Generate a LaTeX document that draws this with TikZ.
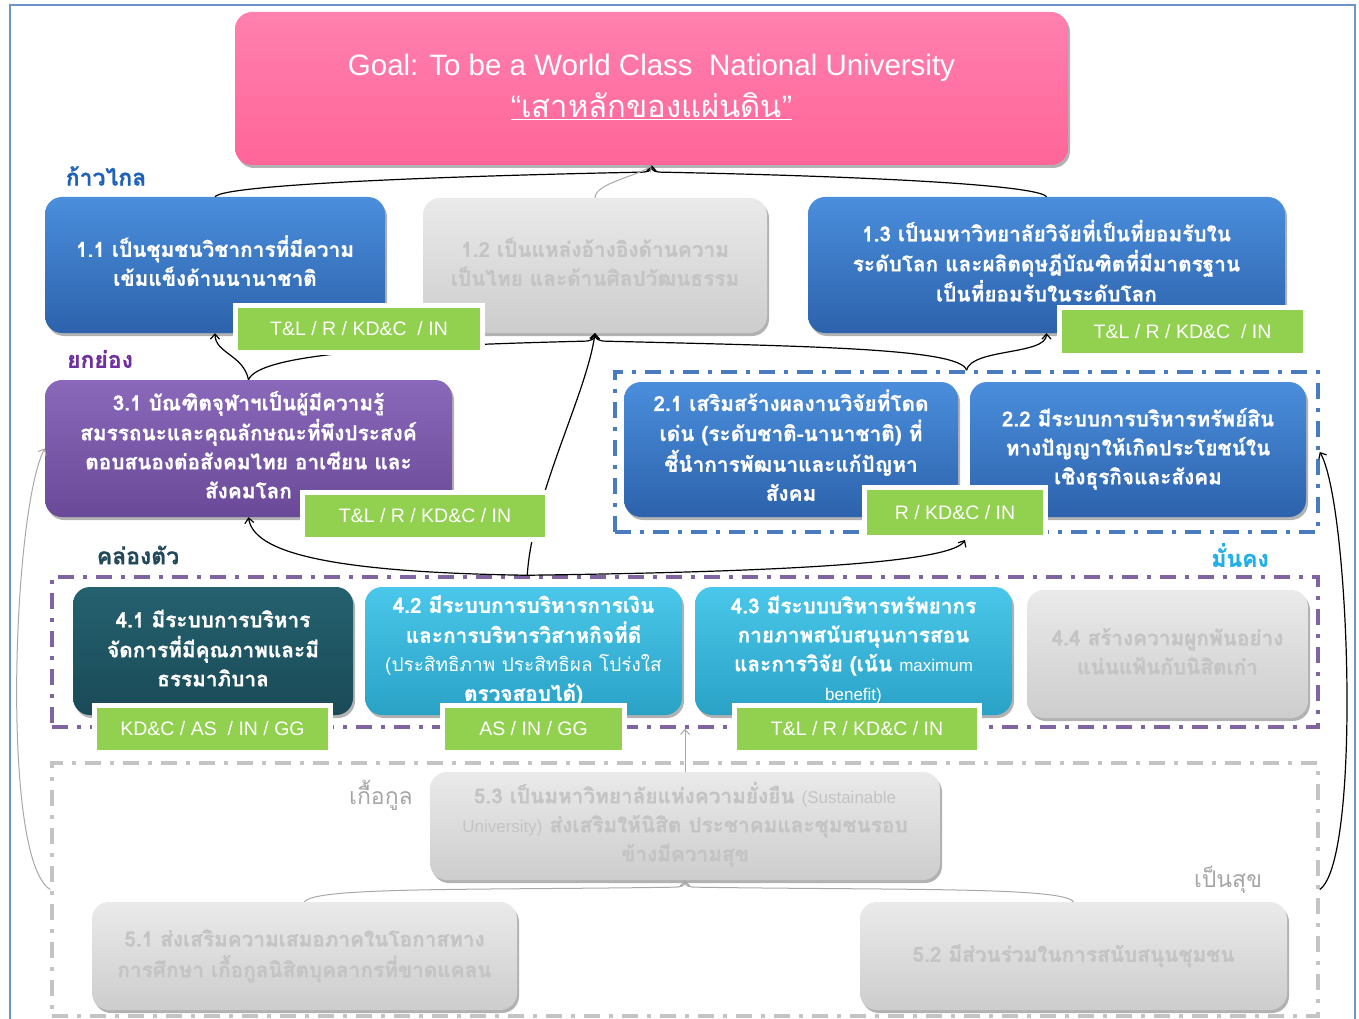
\documentclass[tikz,border=0pt]{standalone}
\usepackage{fontspec}
\setmainfont{Liberation Sans}
\newfontfamily\thai[Script=Thai, BoldFeatures={FakeBold=0.8}]{Loma}
\newfontfamily\latf{Liberation Sans}
\usetikzlibrary{arrows.meta,shadows}
\definecolor{pinkT}{HTML}{FF80AE}
\definecolor{pinkB}{HTML}{FF6598}
\definecolor{blueT}{HTML}{4A8EDC}
\definecolor{blueB}{HTML}{2D62AC}
\definecolor{purpT}{HTML}{8A68BA}
\definecolor{purpB}{HTML}{6A4A98}
\definecolor{tealT}{HTML}{25616F}
\definecolor{tealB}{HTML}{1A4A57}
\definecolor{cyanT}{HTML}{4AC7EA}
\definecolor{cyanB}{HTML}{29A2C6}
\definecolor{grayT}{HTML}{EAEAEA}
\definecolor{grayB}{HTML}{CDCDCD}
\definecolor{grayTxt}{HTML}{C4C4C4}
\definecolor{tagG}{HTML}{92D050}
\definecolor{frameC}{HTML}{6F93CC}
\definecolor{dashBlue}{HTML}{4A7BBE}
\definecolor{dashPurp}{HTML}{8064A2}
\definecolor{dashGray}{HTML}{C4C4C4}
\definecolor{labBlue}{HTML}{1F63B8}
\definecolor{labPurp}{HTML}{7030A0}
\definecolor{labTeal}{HTML}{22495A}
\definecolor{labCyan}{HTML}{22AEE6}
\definecolor{labGray}{HTML}{A6A6A6}
\definecolor{connGray}{HTML}{A8A8A8}
\pgfdeclarelayer{front}
\pgfsetlayers{main,front}
\tikzset{
  boxbase/.style={rectangle, rounded corners=17pt, inner sep=2pt,
    drop shadow={shadow xshift=2pt, shadow yshift=-3pt, fill=black, opacity=0.3},
    font=\thai\bfseries\fontsize{20.8}{29}\selectfont},
  bluebox/.style={boxbase, top color=blueT, bottom color=blueB, text=white},
  purpbox/.style={boxbase, top color=purpT, bottom color=purpB, text=white},
  tealbox/.style={boxbase, top color=tealT, bottom color=tealB, text=white},
  cyanbox/.style={boxbase, top color=cyanT, bottom color=cyanB, text=white},
  graybox/.style={boxbase, top color=grayT, bottom color=grayB, text=grayTxt},
  goalbox/.style={boxbase, top color=pinkT, bottom color=pinkB, text=white,
    font=\latf\fontsize{29.5}{42}\selectfont},
  tagbox/.style={rectangle, fill=tagG, draw=white, line width=5pt, text=white, inner sep=0pt,
    font=\latf\fontsize{19.5}{22}\selectfont,
    drop shadow={shadow xshift=2pt, shadow yshift=-2.5pt, fill=black, opacity=0.25}},
  grp/.style={rectangle, line width=3.5pt, dash pattern=on 16pt off 9pt on 4pt off 9pt, inner sep=0pt},
  grplabel/.style={font=\thai\bfseries\fontsize{23}{25}\selectfont, inner sep=0pt},
  conn/.style={draw=black, line width=1.2pt, -{Straight Barb[length=5pt,width=9pt]}},
  gconn/.style={draw=connGray, line width=1pt, -{Straight Barb[length=5pt,width=9pt]}},
}
\newcommand{\lt}[1]{{\latf\mdseries\fontsize{17}{29}\selectfont #1}}
\newcommand{\bt}[2][4pt]{\raisebox{#1}{\begin{tabular}{@{}c@{}}#2\end{tabular}}}
\begin{document}
\begin{tikzpicture}[x=1pt, y=-1pt]
\useasboundingbox (0,0) rectangle (1359,1019);
\fill[white] (0,0) rectangle (1359,1019);
\draw[frameC, line width=1.3pt] (10,5) rectangle (1355,1045);

% group frames
\node[grp, draw=dashBlue, minimum width=703pt, minimum height=160pt] (g2) at (966.5,452) {};
\node[grp, draw=dashPurp, minimum width=1266pt, minimum height=150pt] (g4) at (685,652) {};
\node[grp, draw=dashGray, minimum width=1266pt, minimum height=253pt] (g5) at (685,889.5) {};
\coordinate (g4tip) at ([xshift=477pt]g4.north west);

% goal
\node[goalbox, minimum width=833pt, minimum height=153pt] (goal) at (651.5,88.5)
  {\bt[4pt]{Goal: To be a World Class\ \ National University\\
   {\thai\mdseries\fontsize{31}{32}\selectfont\underline{{\latf “}เสาหลักของแผ่นดิน{\latf ”}}}}};

% level labels
\node[grplabel, text=labBlue] (lab1) at (106,176) {ก้าวไกล};
\node[grplabel, text=labPurp] (lab3) at (100,359) {ยกย่อง};
\node[grplabel, text=labTeal] (lab4) at (138,555) {คล่องตัว};
\node[grplabel, text=labCyan] (lab2) at (1240,555) {มั่นคง};
\node[grplabel, text=labGray, font=\thai\fontsize{23}{25}\selectfont] (lab5a) at (381,795) {เกื้อกูล};
\node[grplabel, text=labGray, font=\thai\fontsize{23}{25}\selectfont] (lab5b) at (1228,880) {เป็นสุข};

% row 1
\node[bluebox, minimum width=340pt, minimum height=136pt] (n11) at (215,265)
  {\bt[6pt]{1.1 เป็นชุมชนวิชาการที่มีความ\\เข้มแข็งด้านนานาชาติ}};
\node[graybox, minimum width=344pt, minimum height=135pt] (n12) at (595,265.5)
  {\bt[6pt]{1.2 เป็นแหล่งอ้างอิงด้านความ\\เป็นไทย และด้านศิลปวัฒนธรรม}};
\node[bluebox, minimum width=477pt, minimum height=136pt] (n13) at (1046.5,265)
  {\bt[7pt]{1.3 เป็นมหาวิทยาลัยวิจัยที่เป็นที่ยอมรับใน\\ระดับโลก และผลิตดุษฎีบัณฑิตที่มีมาตรฐาน\\เป็นที่ยอมรับในระดับโลก}};

% row 2
\node[purpbox, minimum width=407pt, minimum height=137pt] (n31) at (248.5,448.5)
  {\bt[5pt]{3.1 บัณฑิตจุฬาฯเป็นผู้มีความรู้\\สมรรถนะและคุณลักษณะที่พึงประสงค์\\ตอบสนองต่อสังคมไทย อาเซียน และ\\สังคมโลก}};
\node[bluebox, minimum width=334pt, minimum height=135pt] (n21) at (791,449.5)
  {\bt[6pt]{2.1 เสริมสร้างผลงานวิจัยที่โดด\\เด่น (ระดับชาติ-นานาชาติ) ที่\\ชี้นำการพัฒนาและแก้ปัญหา\\สังคม}};
\node[bluebox, minimum width=336pt, minimum height=135pt] (n22) at (1138,449.5)
  {\bt[3pt]{2.2 มีระบบการบริหารทรัพย์สิน\\ทางปัญญาให้เกิดประโยชน์ใน\\เชิงธุรกิจและสังคม}};

% row 3
\node[tealbox, minimum width=280pt, minimum height=128pt] (n41) at (213,651)
  {\bt[3pt]{4.1 มีระบบการบริหาร\\จัดการที่มีคุณภาพและมี\\ธรรมาภิบาล}};
\node[cyanbox, minimum width=317pt, minimum height=128pt] (n42) at (523.5,651)
  {\bt[1pt]{4.2 มีระบบการบริหารการเงิน\\และการบริหารวิสาหกิจที่ดี\\{\mdseries\fontsize{19}{29}\selectfont(ประสิทธิภาพ ประสิทธิผล โปร่งใส}\\ตรวจสอบได้)}};
\node[cyanbox, minimum width=317pt, minimum height=128pt] (n43) at (853.5,651)
  {\bt[1pt]{4.3 มีระบบบริหารทรัพยากร\\กายภาพสนับสนุนการสอน\\และการวิจัย (เน้น \lt{maximum}\\\lt{benefit)}}};
\node[graybox, minimum width=281pt, minimum height=128pt] (n44) at (1167.5,654)
  {\bt[6pt]{4.4 สร้างความผูกพันอย่าง\\แน่นแฟ้นกับนิสิตเก่า}};

% row 4
\node[graybox, minimum width=510pt, minimum height=108pt] (n53) at (685,826)
  {\bt[5pt]{5.3 เป็นมหาวิทยาลัยแห่งความยั่งยืน \lt{(Sustainable}\\\lt{University)} ส่งเสริมให้นิสิต ประชาคมและชุมชนรอบ\\ข้างมีความสุข}};
\node[graybox, minimum width=425pt, minimum height=108pt] (n51) at (304.5,956)
  {\bt[3pt]{5.1 ส่งเสริมความเสมอภาคในโอกาสทาง\\การศึกษา เกื้อกูลนิสิตบุคลากรที่ขาดแคลน}};
\node[graybox, minimum width=427pt, minimum height=108pt] (n52) at (1073.5,956)
  {\bt[2pt]{5.2 มีส่วนร่วมในการสนับสนุนชุมชน}};

% tags (front layer)
\begin{pgfonlayer}{front}
\node[tagbox, minimum width=247pt, minimum height=47pt] (t11) at (359,329) {T\&L / R / KD\&C\ \ / IN};
\node[tagbox, minimum width=246pt, minimum height=48pt] (t13) at (1182.5,331.5) {T\&L / R / KD\&C\ \ / IN};
\node[tagbox, minimum width=245pt, minimum height=47pt] (t31) at (425,516) {T\&L / R / KD\&C / IN};
\node[tagbox, minimum width=181pt, minimum height=50pt] (t21) at (955,512.5) {R / KD\&C / IN};
\node[tagbox, minimum width=236pt, minimum height=47pt] (t41) at (212.5,729) {KD\&C / AS\ \ / IN / GG};
\node[tagbox, minimum width=182pt, minimum height=47pt] (t42) at (533.5,729) {AS / IN / GG};
\node[tagbox, minimum width=245pt, minimum height=47pt] (t43) at (857,729) {T\&L / R / KD\&C / IN};
\end{pgfonlayer}

% connectors to goal
\draw[conn] (n11.north) .. controls +(8,-12) and +(-200,4) .. ([xshift=-12pt,yshift=-7pt]goal.south)
  .. controls +(8,0) and +(0,6) .. (goal.south);
\draw[conn] (n13.north) .. controls +(-8,-12) and +(200,4) .. ([xshift=12pt,yshift=-7pt]goal.south)
  .. controls +(-8,0) and +(0,6) .. (goal.south);
\draw[gconn] (n12.north) .. controls +(0,-15) and +(-10,10) .. (goal.south);

% row 2 to row 1
\draw[conn] (n31.north) .. controls +(-5,-25) and +(0,20) .. (n11.south);
\draw[conn] (n31.north) .. controls +(10,-25) and +(-200,5) .. ([xshift=-12pt,yshift=-8pt]n12.south)
  .. controls +(8,0) and +(0,6) .. (n12.south);
\draw[conn] (g2.north) .. controls +(-5,-22) and +(200,5) .. ([xshift=12pt,yshift=-8pt]n12.south)
  .. controls +(-8,0) and +(0,6) .. (n12.south);
\draw[conn] (g2.north) .. controls +(5,-22) and +(0,22) .. (n13.south);

% row 3 to upper rows
\draw[conn] (g4tip) .. controls +(-200,-3) and +(5,35) .. (n31.south);
\draw[conn] (g4tip) .. controls +(220,-3) and +(-15,25) .. ([xshift=10pt]t21.south);
\draw[conn] (g4tip) .. controls +(5,-80) and +(-8,60) .. (n12.south);

% row 4
\draw[gconn] (n53.north) -- (g4.south);
\draw[gconn] (n51.north) .. controls +(10,-15) and +(-200,3) .. ([xshift=-12pt,yshift=-7pt]n53.south)
  .. controls +(8,0) and +(0,6) .. (n53.south);
\draw[gconn] (n52.north) .. controls +(-10,-15) and +(200,3) .. ([xshift=12pt,yshift=-7pt]n53.south)
  .. controls +(-8,0) and +(0,6) .. (n53.south);
\draw[gconn] (g5.west) .. controls +(-50,-30) and +(-32,60) .. (n31.west);
\draw[conn] (g5.east) .. controls +(42,-30) and +(30,52) .. (g2.east);
\end{tikzpicture}
\end{document}
